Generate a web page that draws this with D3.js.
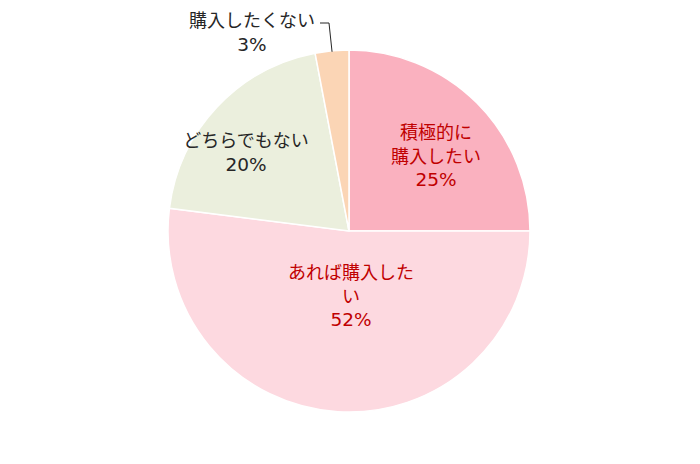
<!DOCTYPE html>
<html>
<head>
<meta charset="utf-8">
<script src="https://cdn.jsdelivr.net/npm/d3@7"></script>
<style>
  body { margin: 0; background: #fff; }
  text { font-family: "Liberation Sans", "Noto Sans CJK JP", sans-serif; }
  tspan.pct { font-family: "DejaVu Sans", sans-serif; font-size: 18.5px; }
</style>
</head>
<body>
<svg width="700" height="464"></svg>
<script>
const categories = ['積極的に購入したい', 'あれば購入したい', 'どちらでもない', '購入したくない']
const values = [25, 52, 20, 3]
// labels wrap the way the original chart wraps them
const labelLines = [
    ['積極的に', '購入したい', '25%'],
    ['あれば購入した', 'い', '52%'],
    ['どちらでもない', '20%'],
    ['購入したくない', '3%']
]

const colors = ['#fab1bf', '#fdd9e0', '#ebefdd', '#fbd5b5']
const textColors = ['#c00000', '#c00000', '#262626', '#262626']

const svg = d3.select('svg')
const cx = 349, cy = 231, r = 181

const pie = d3.pie().sort(null).value(d => d)
const arc = d3.arc().innerRadius(0).outerRadius(r)
const arcs = pie(values)

const g = svg.append('g').attr('transform', `translate(${cx},${cy})`)

g.selectAll('path')
    .data(arcs)
    .enter()
    .append('path')
    .attr('d', arc)
    .attr('fill', (d, i) => colors[i])
    .attr('stroke', '#fff')
    .attr('stroke-width', 1.5)

// first-line baseline of each label, relative to the pie center
const labelPos = [
    [87, -92],
    [2, 48],
    [-103, -84],
    [-97, -204]
]
const lineH = 23.5

labelLines.forEach((lines, i) => {
    const t = svg.append('text')
        .attr('text-anchor', 'middle')
        .attr('fill', textColors[i])
        .style('font-size', '18px')
    lines.forEach((s, j) => {
        t.append('tspan')
            .attr('class', s.endsWith('%') ? 'pct' : null)
            .attr('x', cx + labelPos[i][0])
            .attr('y', cy + labelPos[i][1] + j * lineH)
            .text(s)
    })
})

// leader line for the small slice
const mid = (arcs[3].startAngle + arcs[3].endAngle) / 2
const px = cx + (r - 1) * Math.sin(mid)
const py = cy - (r - 1) * Math.cos(mid)
svg.append('path')
    .attr('d', `M${cx - 29},${cy - 208} H${cx - 20} L${px},${py}`)
    .attr('fill', 'none')
    .attr('stroke', '#262626')
    .attr('stroke-width', 1)
</script>
</body>
</html>
